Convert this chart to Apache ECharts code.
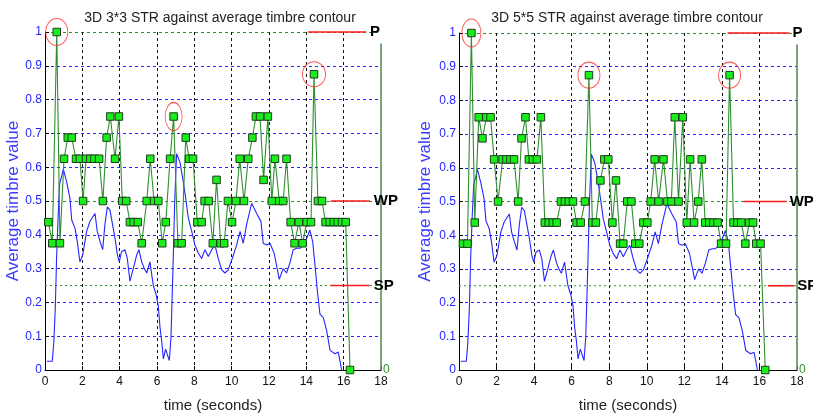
<!DOCTYPE html>
<html><head><meta charset="utf-8">
<script src="https://cdn.jsdelivr.net/npm/echarts@6/dist/echarts.min.js"></script>
<style>html,body{margin:0;padding:0;background:#fff}#c{width:813px;height:418px}</style>
</head><body><div id="c"></div>
<script>
// ---- data ----
const titles = ['3D 3*3 STR against average timbre contour', '3D 5*5 STR against average timbre contour'];
const xTicks = [0, 2, 4, 6, 8, 10, 12, 14, 16, 18];
const yTicks = [0, 0.1, 0.2, 0.3, 0.4, 0.5, 0.6, 0.7, 0.8, 0.9, 1];
// average timbre contour (blue), same in both panels
const blueT = [0.10,0.39,0.47,0.55,0.62,0.70,0.78,0.90,0.98,1.16,1.34,1.43,1.61,1.73,1.87,2.02,2.23,2.41,2.68,2.80,2.95,3.09,3.21,3.34,3.48,3.62,3.75,3.88,3.98,4.10,4.28,4.41,4.55,4.73,4.91,5.03,5.18,5.32,5.45,5.62,5.80,5.95,6.07,6.16,6.25,6.34,6.46,6.57,6.66,6.75,6.82,6.87,6.95,7.05,7.23,7.41,7.54,7.68,7.86,8.03,8.21,8.39,8.57,8.75,8.93,9.10,9.28,9.46,9.64,9.82,10.03,10.27,10.45,10.62,10.80,11.07,11.34,11.57,11.69,11.87,12.05,12.28,12.55,12.76,12.94,13.12,13.30,13.48,13.66,13.84,14.02,14.19,14.34,14.46,14.59,14.73,14.91,15.09,15.27,15.53,15.71,15.80,15.89];
const blueV = [0.026,0.026,0.08,0.18,0.33,0.45,0.55,0.575,0.595,0.556,0.507,0.444,0.419,0.38,0.32,0.34,0.41,0.44,0.463,0.41,0.38,0.356,0.43,0.483,0.473,0.43,0.39,0.34,0.32,0.35,0.356,0.33,0.263,0.30,0.34,0.356,0.32,0.30,0.287,0.32,0.25,0.224,0.19,0.126,0.087,0.033,0.062,0.043,0.028,0.097,0.234,0.33,0.50,0.64,0.615,0.556,0.507,0.449,0.41,0.37,0.346,0.33,0.356,0.336,0.356,0.37,0.33,0.297,0.287,0.297,0.33,0.37,0.41,0.375,0.43,0.493,0.463,0.439,0.375,0.37,0.375,0.345,0.268,0.30,0.287,0.317,0.356,0.36,0.36,0.37,0.39,0.414,0.38,0.312,0.234,0.165,0.155,0.116,0.058,0.048,0.053,0.028,0];
// 3D 3*3 STR (green)
const str3T = [0.18,0.39,0.63,0.80,1.02,1.22,1.43,1.66,1.87,2.04,2.20,2.43,2.65,2.90,3.10,3.30,3.50,3.75,3.96,4.14,4.35,4.55,4.75,4.97,5.18,5.45,5.64,5.84,6.07,6.28,6.47,6.70,6.89,7.12,7.32,7.54,7.72,7.93,8.16,8.39,8.55,8.77,8.99,9.19,9.41,9.60,9.80,10.02,10.23,10.43,10.66,10.89,11.11,11.30,11.52,11.71,11.94,12.15,12.32,12.55,12.76,12.94,13.16,13.37,13.60,13.80,14.02,14.25,14.41,14.62,14.84,15.03,15.25,15.47,15.68,15.91,16.11,16.34];
const str3V = [0.4375,0.375,1,0.375,0.625,0.6875,0.6875,0.625,0.625,0.5,0.625,0.625,0.625,0.625,0.5,0.6875,0.75,0.625,0.75,0.5,0.5,0.4375,0.4375,0.4375,0.375,0.5,0.625,0.5,0.5,0.375,0.4375,0.625,0.75,0.375,0.375,0.6875,0.625,0.625,0.4375,0.4375,0.5,0.5,0.375,0.5625,0.375,0.375,0.5,0.4375,0.5,0.625,0.5,0.625,0.6875,0.75,0.75,0.5625,0.75,0.5,0.625,0.5,0.5,0.625,0.4375,0.375,0.4375,0.375,0.4375,0.4375,0.875,0.5,0.5,0.4375,0.4375,0.4375,0.4375,0.4375,0.4375,0];
// 3D 5*5 STR (green)
const str5T = [0.21,0.45,0.66,0.84,1.05,1.25,1.46,1.68,1.87,2.08,2.32,2.53,2.74,2.93,3.15,3.33,3.54,3.72,3.93,4.15,4.36,4.57,4.78,5.00,5.20,5.43,5.64,5.85,6.07,6.26,6.48,6.71,6.92,7.10,7.29,7.53,7.74,7.95,8.17,8.36,8.58,8.75,8.96,9.18,9.39,9.60,9.82,10.03,10.21,10.42,10.63,10.89,11.10,11.31,11.49,11.69,11.92,12.13,12.31,12.52,12.74,12.93,13.11,13.33,13.55,13.77,13.96,14.22,14.41,14.62,14.83,15.03,15.25,15.46,15.66,15.83,16.06,16.31];
const str5V = [0.375,0.375,1,0.4375,0.75,0.6875,0.75,0.75,0.625,0.5,0.625,0.625,0.625,0.625,0.5,0.6875,0.75,0.625,0.625,0.625,0.75,0.4375,0.4375,0.4375,0.4375,0.5,0.5,0.5,0.5,0.4375,0.4375,0.5,0.875,0.4375,0.4375,0.5625,0.625,0.625,0.4375,0.5625,0.375,0.375,0.5,0.5,0.375,0.375,0.4375,0.4375,0.5,0.625,0.5,0.625,0.5,0.5,0.75,0.5,0.75,0.4375,0.625,0.4375,0.5,0.625,0.4375,0.4375,0.4375,0.4375,0.375,0.375,0.875,0.4375,0.4375,0.4375,0.375,0.4375,0.4375,0.375,0.375,0];
// circled peaks (time values)
const peaks3 = [0.63, 6.89, 14.41];
const peaks5 = [0.66, 6.92, 14.41];
// threshold levels and labels
const levelNames = ['P', 'WP', 'SP'];
const levelValues = [1, 0.5, 0.25];
// extents of the red marker segments [start, end] in seconds
const redSeg3 = [[14.1, 17.2], [15.3, 17.4], [15.3, 17.4]];
const redSeg5 = [[14.3, 17.6], [15.15, 17.45], [16.45, 17.85]];

// ---- chart ----
const BLUE = '#2626ff', GREEN = '#2f8f2f', RED = '#ff1a1a';
const zip = (a, b) => a.map((v, i) => [v, b[i]]);
const chart = echarts.init(document.getElementById('c'), null, {renderer: 'canvas'});

const grids = [
  {left: 45, right: 432, top: 32, bottom: 45},
  {left: 459, right: 16, top: 33, bottom: 43}
];
const xSplitColors = xTicks.map((t, i) => (i === 0 || i === xTicks.length - 1) ? 'rgba(0,0,0,0)' : '#111');
const ySplitColors = yTicks.map(v => v === 0 ? 'rgba(0,0,0,0)' : (v === 0.5 || v === 1) ? GREEN : BLUE);

const xAxes = [], yAxes = [], series = [], titleArr = [];
const panels = [
  {T: str3T, V: str3V, peaks: peaks3, red: redSeg3, lblGap: 4, nameGap: 21, circ: [[22, 27], [17, 28], [23, 25]]},
  {T: str5T, V: str5V, peaks: peaks5, red: redSeg5, lblGap: 3, nameGap: 25, circ: [[19, 28], [22, 26], [22, 26]]}
];
panels.forEach((p, g) => {
  titleArr.push({
    text: titles[g], left: (g === 0 ? 215 : 622), top: 6, textAlign: 'center',
    textStyle: {fontFamily: 'Liberation Sans', fontSize: 14, fontWeight: 'normal', color: '#222'}
  });
  xAxes.push({
    gridIndex: g, type: 'value', min: 0, max: 18, interval: 2,
    name: 'time (seconds)', nameLocation: 'middle', nameGap: 28,
    nameTextStyle: {fontFamily: 'Liberation Sans', fontSize: 15, color: '#222'},
    axisLine: {lineStyle: {color: '#000', width: 1}},
    axisTick: {inside: true, length: 4, lineStyle: {color: '#000'}},
    axisLabel: {fontFamily: 'Liberation Sans', fontSize: 12, color: '#111', margin: 6},
    splitLine: {show: true, lineStyle: {color: xSplitColors, type: [3, 3], width: 1}}
  });
  yAxes.push({
    gridIndex: g, type: 'value', min: 0, max: 1, interval: 0.1, position: 'left',
    name: 'Average timbre value', nameLocation: 'middle', nameGap: p.nameGap,
    nameTextStyle: {fontFamily: 'Liberation Sans', fontSize: 17, color: '#3a3aff'},
    axisLine: {show: true, lineStyle: {color: '#000', width: 1}},
    axisTick: {inside: true, length: 4, lineStyle: {color: '#000'}},
    axisLabel: {fontFamily: 'Liberation Sans', fontSize: 12, color: '#1f1fff', margin: 3},
    splitLine: {show: true, lineStyle: {color: ySplitColors, type: [3, 3], width: 1}}
  });
  yAxes.push({
    gridIndex: g, type: 'value', min: 0, max: 1, interval: 1, position: 'right',
    axisLine: {show: false}, axisTick: {show: false}, splitLine: {show: false},
    axisLabel: {fontFamily: 'Liberation Sans', fontSize: 12, color: GREEN, margin: 2,
      formatter: v => v === 0 ? '0' : ''}
  });
  const xi = g, yi = g * 2;
  // blue contour
  series.push({
    type: 'line', xAxisIndex: xi, yAxisIndex: yi, data: zip(blueT, blueV),
    showSymbol: false, symbol: 'none', lineStyle: {color: BLUE, width: 1.1}, z: 3, animation: false
  });
  // green 0.25 threshold and right border
  series.push({
    type: 'line', xAxisIndex: xi, yAxisIndex: yi, data: [[0, 0.25], [18, 0.25]],
    symbol: 'none', lineStyle: {color: GREEN, type: [2, 3], width: 1}, z: 2, animation: false, silent: true
  });
  series.push({
    type: 'line', xAxisIndex: xi, yAxisIndex: yi, data: [[18, 0], [18, 0.966]],
    symbol: 'none', lineStyle: {color: '#5a8f5a', width: 1.6}, z: 4, animation: false, silent: true
  });
  // red P / WP / SP markers
  levelNames.forEach((n, i) => {
    series.push({
      type: 'line', xAxisIndex: xi, yAxisIndex: yi, name: n,
      data: [[p.red[i][0], levelValues[i]], [p.red[i][1], levelValues[i]]],
      symbol: 'none', clip: false, silent: true, animation: false,
      lineStyle: {color: RED, width: 1.6, opacity: 1}, itemStyle: {color: RED}, z: 7,
      endLabel: {show: true, formatter: n, distance: p.lblGap,
        fontFamily: 'Liberation Sans', fontWeight: 'bold', fontSize: 15, color: '#000'}
    });
  });
  // STR series
  series.push({
    type: 'line', xAxisIndex: xi, yAxisIndex: yi, data: zip(p.T, p.V),
    symbol: 'rect', symbolSize: 7.5, showAllSymbol: true,
    lineStyle: {color: GREEN, width: 1.1},
    itemStyle: {color: '#1aee1a', borderColor: '#1d3d1d', borderWidth: 1},
    z: 5, animation: false
  });
  // red circles around peaks
  series.push({
    type: 'scatter', xAxisIndex: xi, yAxisIndex: yi,
    data: p.peaks.map((t, i) => ({value: [t, p.V[p.T.indexOf(t)]], symbolSize: p.circ[i]})),
    symbol: 'circle',
    itemStyle: {color: 'rgba(0,0,0,0)', borderColor: '#ff2a2a', borderWidth: 1},
    z: 6, animation: false, silent: true
  });
});

chart.setOption({
  animation: false,
  backgroundColor: '#fff',
  title: titleArr,
  grid: grids,
  xAxis: xAxes,
  yAxis: yAxes,
  series: series
});
</script></body></html>
